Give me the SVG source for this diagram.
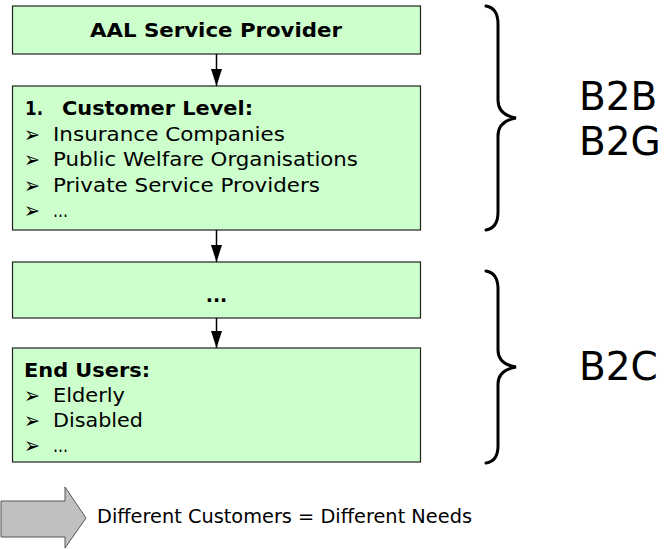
<svg xmlns="http://www.w3.org/2000/svg" width="666" height="549" viewBox="0 0 666 549">
<defs>
<style>
.box{fill:#ccffcc;stroke:#222;stroke-width:1.2}
.t{font-family:"DejaVu Sans",Verdana,sans-serif;font-size:19px;fill:#000}
.bl{font-family:"DejaVu Sans",Verdana,sans-serif;font-size:22px;fill:#000}
.b{font-weight:bold}
.brace{fill:none;stroke:#000;stroke-width:3;stroke-linecap:round}
.big{font-family:"DejaVu Sans",Verdana,sans-serif;font-size:39px;fill:#000}
.conn{stroke:#000;stroke-width:1.5;fill:none}
</style>
<marker id="ah" viewBox="0 0 10 10" refX="10" refY="5" markerWidth="17" markerHeight="11" markerUnits="userSpaceOnUse" orient="auto" preserveAspectRatio="none">
<path d="M0,0 L10,5 L0,10 Z" fill="#000"/>
</marker>
</defs>
<rect width="666" height="549" fill="#fff"/>
<g id="provider">
<rect class="box" x="12.5" y="6" width="408" height="48"/>
<text class="t b" x="90" y="37" font-size="18" textLength="252" lengthAdjust="spacingAndGlyphs">AAL Service Provider</text>
</g>
<g id="customer-level">
<rect class="box" x="12.5" y="86" width="408" height="144"/>
<text class="t b" x="25" y="115" textLength="18" lengthAdjust="spacingAndGlyphs">1.</text>
<text class="t b" x="62" y="115" textLength="191" lengthAdjust="spacingAndGlyphs">Customer Level:</text>
<text class="bl" x="24" y="142" textLength="16" lengthAdjust="spacingAndGlyphs">➢</text><text class="t" x="53" y="141" textLength="232" lengthAdjust="spacingAndGlyphs">Insurance Companies</text>
<text class="bl" x="24" y="167" textLength="16" lengthAdjust="spacingAndGlyphs">➢</text><text class="t" x="53" y="166" textLength="305" lengthAdjust="spacingAndGlyphs">Public Welfare Organisations</text>
<text class="bl" x="24" y="193" textLength="16" lengthAdjust="spacingAndGlyphs">➢</text><text class="t" x="53" y="192" textLength="267" lengthAdjust="spacingAndGlyphs">Private Service Providers</text>
<text class="bl" x="24" y="218" textLength="16" lengthAdjust="spacingAndGlyphs">➢</text><text class="t" x="53" y="217" textLength="15" lengthAdjust="spacingAndGlyphs">…</text>
</g>
<g id="intermediate">
<rect class="box" x="12.5" y="262" width="408" height="56"/>
<text class="t b" x="216.5" y="302" text-anchor="middle">...</text>
</g>
<g id="end-users">
<rect class="box" x="12.5" y="348" width="408" height="114"/>
<text class="t b" x="24" y="377" textLength="126" lengthAdjust="spacingAndGlyphs">End Users:</text>
<text class="bl" x="24" y="403" textLength="16" lengthAdjust="spacingAndGlyphs">➢</text><text class="t" x="53" y="402" textLength="72" lengthAdjust="spacingAndGlyphs">Elderly</text>
<text class="bl" x="24" y="428" textLength="16" lengthAdjust="spacingAndGlyphs">➢</text><text class="t" x="53" y="427" textLength="90" lengthAdjust="spacingAndGlyphs">Disabled</text>
<text class="bl" x="24" y="453" textLength="16" lengthAdjust="spacingAndGlyphs">➢</text><text class="t" x="53" y="452" textLength="15" lengthAdjust="spacingAndGlyphs">…</text>
</g>
<g id="connectors">
<line class="conn" x1="216.5" y1="54" x2="216.5" y2="86" marker-end="url(#ah)"/>
<line class="conn" x1="216.5" y1="230" x2="216.5" y2="262" marker-end="url(#ah)"/>
<line class="conn" x1="216.5" y1="318" x2="216.5" y2="348" marker-end="url(#ah)"/>
</g>
<g id="brace-b2b">
<path class="brace" d="M486,6 Q498,8 498,24 L498,100 Q498,115 516,118 Q498,121 498,136 L498,212 Q498,228 486,230"/>
<text class="big" x="579" y="110">B2B</text>
<text class="big" x="579" y="155">B2G</text>
</g>
<g id="brace-b2c">
<path class="brace" d="M486,271 Q498,273 498,289 L498,350 Q498,364 516,367 Q498,370 498,384 L498,446 Q498,461 486,463"/>
<text class="big" x="579" y="380">B2C</text>
</g>
<g id="legend">
<path d="M1,501 L65,501 L65,487 L86,518 L65,548 L65,537 L1,537 Z" fill="#c0c0c0" stroke="#555" stroke-width="1"/>
<text class="t" x="97" y="523" textLength="375" lengthAdjust="spacingAndGlyphs">Different Customers = Different Needs</text>
</g>
</svg>
